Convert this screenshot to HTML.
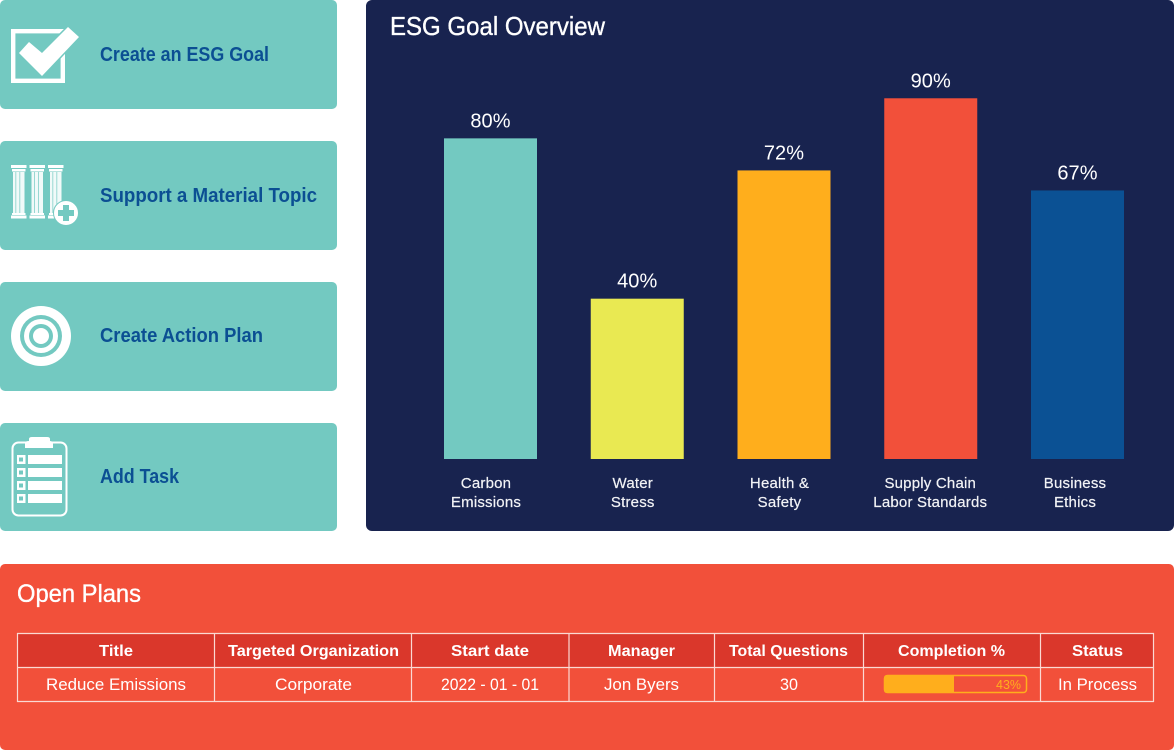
<!DOCTYPE html>
<html lang="en">
<head>
<meta charset="utf-8">
<title>ESG Goal Dashboard</title>
<style>
html,body{margin:0;padding:0;background:#fff;width:1174px;height:750px;overflow:hidden}
svg{display:block;font-family:"Liberation Sans",sans-serif}
.nav{font-size:20px;font-weight:700;fill:#0b4f93}
.th{font-size:15.500px;font-weight:700;fill:#fff}
.td{font-size:17px;fill:#fff}
.heading{fill:#fff;stroke:#fff;stroke-width:.35px}
.grid{stroke:#fbd9d3;stroke-width:1.200}
.cat{font-size:15px;fill:#f2f3f6;stroke:#f2f3f6;stroke-width:.2px;letter-spacing:.2px;text-anchor:middle}
.val{font-size:20px;fill:#fff;text-anchor:middle;letter-spacing:.1px}
</style>
</head>
<body>
<svg id="page" width="1174" height="750" viewBox="0 0 1174 750">
  <!-- Action buttons -->
  <g>
    <rect x="0" y="0" width="337" height="109" rx="5" fill="#73c9c1"/>
    <g>
      <rect x="13.200" y="31.200" width="49.600" height="49.600" fill="none" stroke="#fff" stroke-width="4.400"/>
      <polygon points="19,53 29,42 42,53 68,27 79,37 42,76" fill="#fff" stroke="#73c9c1" stroke-width="3" paint-order="stroke"/>
    </g>
    <text class="nav" x="100" y="61" textLength="169" lengthAdjust="spacingAndGlyphs">Create an ESG Goal</text>
  </g>
  <g>
    <rect x="0" y="141" width="337" height="109" rx="5" fill="#73c9c1"/>
    <g fill="#fff">
      <g>
        <rect x="11" y="165" width="15.500" height="3"/><rect x="12" y="169" width="13.500" height="2.500"/><rect x="13" y="172" width="11.500" height="41" opacity=".9"/><rect x="15.500" y="172" width=".7" height="41" fill="#73c9c1"/><rect x="19.500" y="172" width=".7" height="41" fill="#73c9c1"/><rect x="12" y="213" width="13.500" height="2"/><rect x="11" y="215.500" width="15.500" height="3"/>
      </g>
      <g>
        <rect x="29.500" y="165" width="15.500" height="3"/><rect x="30.500" y="169" width="13.500" height="2.500"/><rect x="31.500" y="172" width="11.500" height="41" opacity=".9"/><rect x="34" y="172" width=".7" height="41" fill="#73c9c1"/><rect x="38" y="172" width=".7" height="41" fill="#73c9c1"/><rect x="30.500" y="213" width="13.500" height="2"/><rect x="29.500" y="215.500" width="15.500" height="3"/>
      </g>
      <g>
        <rect x="48" y="165" width="15.500" height="3"/><rect x="49" y="169" width="13.500" height="2.500"/><rect x="50" y="172" width="11.500" height="41" opacity=".9"/><rect x="52.500" y="172" width=".7" height="41" fill="#73c9c1"/><rect x="56.500" y="172" width=".7" height="41" fill="#73c9c1"/><rect x="49" y="213" width="13.500" height="2"/><rect x="48" y="215.500" width="15.500" height="3"/>
      </g>
      <circle cx="66" cy="213" r="12.500" fill="#fff" stroke="#73c9c1" stroke-width="1"/>
      <rect x="63" y="205" width="6" height="16" fill="#73c9c1"/>
      <rect x="58" y="210" width="16" height="6" fill="#73c9c1"/>
    </g>
    <text class="nav" x="100" y="202" textLength="217" lengthAdjust="spacingAndGlyphs">Support a Material Topic</text>
  </g>
  <g>
    <rect x="0" y="282" width="337" height="109" rx="5" fill="#73c9c1"/>
    <g>
      <circle cx="41" cy="336" r="30" fill="#fff"/>
      <circle cx="41" cy="336" r="21" fill="#73c9c1"/>
      <circle cx="41" cy="336" r="17" fill="#fff"/>
      <circle cx="41" cy="336" r="12" fill="#73c9c1"/>
      <circle cx="41" cy="336" r="8" fill="#fff"/>
    </g>
    <text class="nav" x="100" y="342" textLength="163" lengthAdjust="spacingAndGlyphs">Create Action Plan</text>
  </g>
  <g>
    <rect x="0" y="423" width="337" height="108" rx="5" fill="#73c9c1"/>
    <g>
      <rect x="12.500" y="442.500" width="54" height="73" rx="6" fill="none" stroke="#fff" stroke-width="2"/>
      <path d="M25 448 V443 Q25 441 29 441 V439 Q29 437 32 437 H47 Q50 437 50 439 V441 Q53 441 53 444 V448 Z" fill="#fff"/>
      <g fill="#fff">
        <rect x="17" y="455" width="8.500" height="9"/><rect x="28" y="455" width="34" height="9"/>
        <rect x="17" y="468" width="8.500" height="9"/><rect x="28" y="468" width="34" height="9"/>
        <rect x="17" y="481" width="8.500" height="9"/><rect x="28" y="481" width="34" height="9"/>
        <rect x="17" y="494" width="8.500" height="9"/><rect x="28" y="494" width="34" height="9"/>
      </g>
      <g fill="#73c9c1">
        <rect x="19" y="457.500" width="4" height="4"/>
        <rect x="19" y="470.500" width="4" height="4"/>
        <rect x="19" y="483.500" width="4" height="4"/>
        <rect x="19" y="496.500" width="4" height="4"/>
      </g>
    </g>
    <text class="nav" x="100" y="483" textLength="79" lengthAdjust="spacingAndGlyphs">Add Task</text>
  </g>

  <!-- Chart panel -->
  <g>
    <rect x="366" y="0" width="808" height="531" rx="6" fill="#18234f"/>
    <text class="heading" x="390" y="35" font-size="26" textLength="215" lengthAdjust="spacingAndGlyphs">ESG Goal Overview</text>
    <g id="bars"></g>
    <g id="values"></g>
    <g id="categories"></g>
  </g>

  <!-- Open plans -->
  <g>
    <rect x="0" y="564" width="1174" height="186" rx="5" fill="#f2503a"/>
    <text class="heading" x="17" y="602" font-size="25" textLength="124" lengthAdjust="spacingAndGlyphs">Open Plans</text>
    <g>
      <rect x="17.500" y="633.500" width="1136" height="34" fill="#da372b"/>
      <g class="grid">
        <line x1="17" y1="633.500" x2="1154" y2="633.500"/>
        <line x1="17" y1="667.500" x2="1154" y2="667.500"/>
        <line x1="17" y1="701.500" x2="1154" y2="701.500"/>
        <line x1="17.500" y1="633" x2="17.500" y2="702"/>
        <line x1="214.500" y1="633" x2="214.500" y2="702"/>
        <line x1="411.500" y1="633" x2="411.500" y2="702"/>
        <line x1="569" y1="633" x2="569" y2="702"/>
        <line x1="714.500" y1="633" x2="714.500" y2="702"/>
        <line x1="863.500" y1="633" x2="863.500" y2="702"/>
        <line x1="1040.500" y1="633" x2="1040.500" y2="702"/>
        <line x1="1153.500" y1="633" x2="1153.500" y2="702"/>
      </g>
      <g>
        <text class="th" x="99" y="656" textLength="34" lengthAdjust="spacingAndGlyphs">Title</text>
        <text class="th" x="228" y="656" textLength="171" lengthAdjust="spacingAndGlyphs">Targeted Organization</text>
        <text class="th" x="451" y="656" textLength="78" lengthAdjust="spacingAndGlyphs">Start date</text>
        <text class="th" x="608" y="656" textLength="67" lengthAdjust="spacingAndGlyphs">Manager</text>
        <text class="th" x="729" y="656" textLength="119" lengthAdjust="spacingAndGlyphs">Total Questions</text>
        <text class="th" x="898" y="656" textLength="107" lengthAdjust="spacingAndGlyphs">Completion %</text>
        <text class="th" x="1072" y="656" textLength="51" lengthAdjust="spacingAndGlyphs">Status</text>
      </g>
      <g>
        <text class="td" x="46" y="690" textLength="140" lengthAdjust="spacingAndGlyphs">Reduce Emissions</text>
        <text class="td" x="275" y="690" textLength="77" lengthAdjust="spacingAndGlyphs">Corporate</text>
        <text class="td" x="441" y="690" textLength="98" lengthAdjust="spacingAndGlyphs">2022 - 01 - 01</text>
        <text class="td" x="604" y="690" textLength="75" lengthAdjust="spacingAndGlyphs">Jon Byers</text>
        <text class="td" x="780" y="690" textLength="18" lengthAdjust="spacingAndGlyphs">30</text>
        <g>
          <rect x="884.500" y="675.500" width="142" height="17" rx="3" fill="none" stroke="#ffae1c" stroke-width="1.500"/>
          <path d="M887 675 H954 V693 H887 Q884 693 884 690 V678 Q884 675 887 675 Z" fill="#ffae1c"/>
          <text x="996" y="689" font-size="12.500" fill="#ffae1c" textLength="25" lengthAdjust="spacingAndGlyphs">43%</text>
        </g>
        <text class="td" x="1058" y="690" textLength="79" lengthAdjust="spacingAndGlyphs">In Process</text>
      </g>
    </g>
  </g>
</svg>
<script>
const categories = [["Carbon","Emissions"],["Water","Stress"],["Health &","Safety"],["Supply Chain","Labor Standards"],["Business","Ethics"]];
const goalValues = [80,40,72,90,67];
const barColors = ["#73c9c1","#e9e952","#ffae1c","#f2503a","#0b5194"];

const NS = "http://www.w3.org/2000/svg";
const baseY = 459, pxPerPct = 4.008, firstX = 444, stepX = 146.75, barW = 93;
function yScale(v){ return baseY - v * pxPerPct; }
function xScale(i){ return firstX + i * stepX; }
function labelCenter(i){ return xScale(i) + barW / 2 + (i === 3 ? -0.5 : i === 4 ? -2.5 : -4.5); }

const barsG = document.getElementById("bars");
const valuesG = document.getElementById("values");
const catsG = document.getElementById("categories");

goalValues.forEach(function(v, i){
  const r = document.createElementNS(NS, "rect");
  r.setAttribute("x", xScale(i));
  r.setAttribute("y", yScale(v));
  r.setAttribute("width", barW);
  r.setAttribute("height", baseY - yScale(v));
  r.setAttribute("fill", barColors[i]);
  
  
  barsG.appendChild(r);

  const t = document.createElementNS(NS, "text");
  t.setAttribute("class", "val");
  t.setAttribute("x", xScale(i) + barW / 2);
  t.setAttribute("y", yScale(v) - 11);
  t.textContent = v + "%";
  
  
  valuesG.appendChild(t);

  const c = document.createElementNS(NS, "text");
  c.setAttribute("class", "cat");
  
  
  categories[i].forEach(function(line, j){
    const s = document.createElementNS(NS, "tspan");
    s.setAttribute("x", labelCenter(i));
    s.setAttribute("y", 488 + j * 19);
    s.textContent = line;
    c.appendChild(s);
  });
  catsG.appendChild(c);
});
</script>
</body>
</html>
